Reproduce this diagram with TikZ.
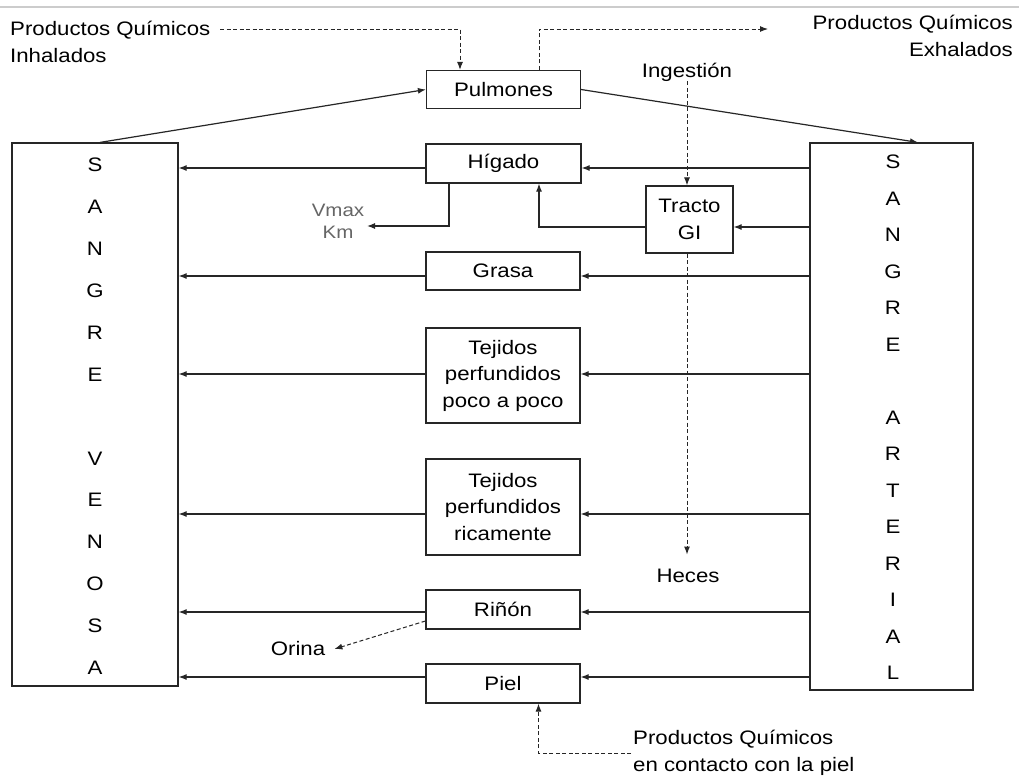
\documentclass[tikz,border=0pt]{standalone}
\usepackage{fontspec}
\setmainfont{Liberation Sans}[FakeStretch=1.14]
\usetikzlibrary{arrows.meta,calc}
\newcommand\dgfont{\fontsize{19.5}{26.5}\selectfont}
\begin{document}
\begin{tikzpicture}[x=1pt,y=-1pt,
  line/.style={draw=black!85,line width=1.2pt},
  arr/.style={line,-{Latex[length=8pt,width=6pt]}},
  dsh/.style={arr,line width=1pt,dash pattern=on 4pt off 2.5pt},
  box/.style={line,fill=white,inner sep=0pt,align=center,font=\dgfont},
  organ/.style={box,minimum width=154pt},
  lbl/.style={inner sep=0pt,font=\dgfont},
  lett/.style={inner sep=0pt,font=\dgfont}]
\useasboundingbox (0,0) rectangle (1019,780);
\fill[white] (0,0) rectangle (1019,780);
\draw[black!20,line width=1.5pt] (0,7) -- (1019,7);

% blood compartments
\node[box,minimum width=166pt,minimum height=543pt] (ven) at (95,414.5) {};
\node[box,minimum width=163pt,minimum height=547pt] (art) at (891.5,416.5) {};
\foreach \l [count=\i from 0] in {S,A,N,G,R,E,{},V,E,N,O,S,A}
  \node[lett] (v\i) at (95,{165+41.9*\i}) {\l};
\foreach \l [count=\i from 0] in {S,A,N,G,R,E,{},A,R,T,E,R,I,A,L}
  \node[lett] (a\i) at (893,{162+36.5*\i}) {\l};

% organs
\node[organ,minimum height=38pt] (pul) at (503.5,89.5) {Pulmones};
\node[organ,minimum width=155pt,minimum height=39pt] (hig) at (503.5,163.5) {Hígado};
\node[box,minimum width=87pt,minimum height=67pt] (gi) at (689.5,219.5) {Tracto\\GI};
\node[organ,minimum height=38pt] (gra) at (503,271) {Grasa};
\node[organ,minimum height=95pt] (tlp) at (503,375.5) {Tejidos\\perfundidos\\poco a poco};
\node[organ,minimum height=96pt] (trp) at (503,507) {Tejidos\\perfundidos\\ricamente};
\node[organ,minimum height=39pt] (rin) at (503,609.5) {Riñón};
\node[organ,minimum height=39pt] (pie) at (503,683.5) {Piel};

% free labels
\node[lbl,anchor=west,align=left] (inh) at (10,42) {Productos Químicos\\Inhalados};
\node[lbl,anchor=east,align=right] (exh) at (1013,36) {Productos Químicos\\Exhalados};
\node[lbl] (ing) at (687,72) {Ingestión};
\node[lbl] (hec) at (688,575.5) {Heces};
\node[lbl] (ori) at (298,649) {Orina};
\node[lbl,align=center,text=black!60,font=\fontsize{18}{22}\selectfont] (vmx) at (338,221.5) {Vmax\\Km};
\node[lbl,anchor=west,align=left,inner sep=2pt] (cont) at (631,753) {Productos Químicos\\en contacto con la piel};

% row heights of the flows
\coordinate (yH) at (0,168);
\coordinate (yT) at (0,227);
\coordinate (yG) at (0,276);
\coordinate (yP) at (0,374);
\coordinate (yR) at (0,514);
\coordinate (yK) at (0,612);
\coordinate (yS) at (0,677);
\coordinate (inA) at (220,29);
\coordinate (exA) at (768,29);
\coordinate (vmA) at (367,226);

% lungs
\draw[arr] ([xshift=5pt]ven.north) -- (pul.west);
\draw[arr] (pul.east) -- ([xshift=26.5pt]art.north);
\draw[dsh] (inA) -| ([xshift=-43.5pt]pul.north);
\draw[dsh] ([xshift=35.5pt]pul.north) |- (exA);

% arterial -> organs -> venous
\foreach \o/\y in {hig/yH,gra/yG,tlp/yP,trp/yR,rin/yK,pie/yS}{
  \draw[arr] (art.west |- \y) -- (\o.east |- \y);
  \draw[arr] (\o.west |- \y) -- (ven.east |- \y);
}
\draw[arr] (art.west |- yT) -- (gi.east |- yT);
\draw[arr] (gi.west |- yT) -| ([xshift=35.5pt]hig.south);
\draw[arr] ([xshift=-54.5pt]hig.south) |- (vmA);

% ingestion, faeces, urine, skin contact
\draw[dsh] (ing.south) -- (ing.south |- gi.north);
\draw[dsh] (ing.south |- gi.south) -- ([yshift=14pt]ing.south |- hec.north);
\draw[dsh] ([yshift=-11.5pt]rin.west) -- ([xshift=9pt]ori.east);
\draw[dsh] (cont.west) -| ([xshift=35.5pt]pie.south);
\end{tikzpicture}
\end{document}
